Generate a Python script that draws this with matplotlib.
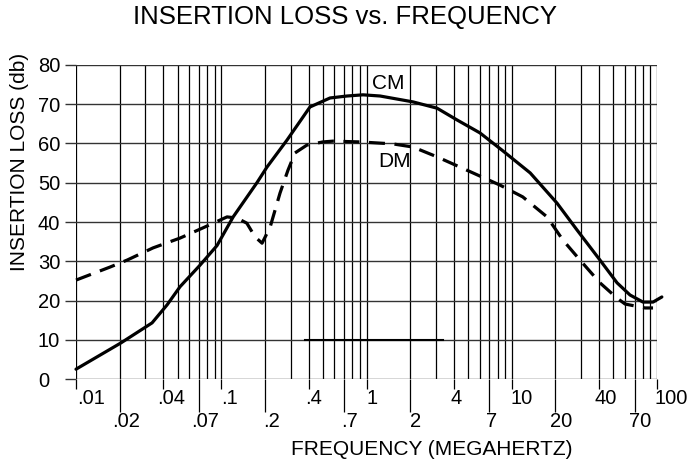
import matplotlib
matplotlib.use('Agg')
import matplotlib.pyplot as plt
from matplotlib.transforms import ScaledTranslation

plt.rcParams['font.family'] = ['Liberation Sans', 'DejaVu Sans']

# ---- data ----
cm_freq = [0.01, 0.0204, 0.0334, 0.0424, 0.052, 0.0714, 0.0935, 0.1208, 0.176, 0.2065,
           0.284, 0.408, 0.561, 0.734, 0.946, 1.24, 2.09, 3.06, 4.2, 6.04, 8.57, 13.4,
           20.5, 28.1, 40.5, 53.1, 65.2, 80.1, 93.9, 108]
cm_loss = [2.5, 9.2, 14.3, 18.9, 23.5, 29, 34, 41.3, 50, 54,
           60.9, 69.3, 71.6, 72.1, 72.4, 72.1, 70.6, 69, 66, 62.7, 58.3, 52.5,
           44.8, 38, 30.3, 24.5, 21.4, 19.6, 19.6, 20.9]

dm_freq = [0.01, 0.0171, 0.0225, 0.0339, 0.052, 0.0748, 0.1096, 0.1285, 0.150, 0.171,
           0.191, 0.217, 0.254, 0.288, 0.322, 0.389, 0.501, 0.587, 0.901, 1.52, 2.09,
           3.06, 5.41, 8.30, 11.9, 17.5, 22.5, 29.5, 40.5, 53.1, 60.3, 82.8, 93.9]
dm_loss = [25.2, 28.5, 30.3, 33.4, 35.9, 38.5, 41.3, 41, 39.7, 36.2,
           34.6, 38.7, 47.4, 53.2, 57.6, 59.6, 60.4, 60.6, 60.4, 59.9, 59.1,
           56.6, 52.5, 49.4, 46.4, 41.3, 35.4, 30.3, 24.5, 20.6, 19.1, 18.1, 18.1]

ref_freq = [0.377, 3.36]
ref_loss = [10, 10]

top_ticks = [0.01, 0.04, 0.1, 0.4, 1, 4, 10, 40, 100]
top_labels = ['.01', '.04', '.1', '.4', '1', '4', '10', '40', '100']
bottom_ticks = [0.02, 0.07, 0.2, 0.7, 2, 7, 20, 70]
bottom_labels = ['.02', '.07', '.2', '.7', '2', '7', '20', '70']
y_ticks = [0, 10, 20, 30, 40, 50, 60, 70, 80]

# ---- figure ----
W, H = 698, 465
fig = plt.figure(figsize=(W / 100, H / 100), dpi=100)
ax = fig.add_axes([76 / W, 1 - 379 / H, 581 / W, 314 / H])
ax.set_xscale('log')
ax.set_xlim(0.01, 100)
ax.set_ylim(0, 80)
for s in ax.spines.values():
    s.set_visible(False)

# grid
decades = [0.01, 0.1, 1, 10]
for d in decades:
    for m in range(1, 10):
        ax.axvline(d * m, color='black', lw=0.9, zorder=1)
ax.axvline(100, color='black', lw=0.9, zorder=1)
for yv in y_ticks:
    ax.axhline(yv, color='#333333', lw=1.0, zorder=1)

# x ticks
ax.set_xticks(top_ticks)
ax.set_xticklabels(top_labels)
ax.set_xticks(bottom_ticks, minor=True)
ax.set_xticklabels(bottom_labels, minor=True)
ax.tick_params(axis='x', which='major', length=7.2, width=0.9, pad=0, labelsize=14.5)
ax.tick_params(axis='x', which='minor', length=23.8, width=0.9, pad=0, labelsize=14.5)

top_dx = [15, 7.5, 8, 5, 5.5, 2.5, 9.5, 6, 14.5]
bot_dx = [6.5, 6.5, 6.5, 5, 5, 2, 6, 5.5]
fig.canvas.draw()
for lab, dx in zip(ax.get_xticklabels(), top_dx):
    lab.set_transform(lab.get_transform() + ScaledTranslation(dx / 100, 0, fig.dpi_scale_trans))
for lab, dx in zip(ax.get_xticklabels(minor=True), bot_dx):
    lab.set_transform(lab.get_transform() + ScaledTranslation(dx / 100, 0, fig.dpi_scale_trans))

# y ticks
ax.set_yticks(y_ticks)
ax.tick_params(axis='y', length=7.9, width=1.0, pad=19.5, labelsize=14.5, color='#333333')
for lab in ax.get_yticklabels():
    lab.set_ha('left')

# curves
ax.plot(cm_freq, cm_loss, color='black', lw=2.3, clip_on=False, zorder=3,
        solid_joinstyle='round', solid_capstyle='round')
ax.plot(dm_freq, dm_loss, color='black', lw=2.3, ls=(0, (5, 3)), clip_on=False, zorder=3)
ax.plot(ref_freq, ref_loss, color='black', lw=1.5, zorder=2)

ax.text(1.41, 75.2, 'CM', ha='center', va='center', fontsize=15)
ax.text(1.57, 55.5, 'DM', ha='center', va='center', fontsize=15)

ax.set_xlabel('FREQUENCY (MEGAHERTZ)', fontsize=15)
ax.xaxis.label.set_va('center')
ax.xaxis.set_label_coords(0.612, -0.226)
ax.set_ylabel('INSERTION LOSS (db)', fontsize=15)
ax.yaxis.label.set_va('center')
ax.yaxis.set_label_coords(-0.097, 0.691)

fig.text(345 / W, 1 - 17 / H, 'INSERTION LOSS vs. FREQUENCY', ha='center', va='center',
         fontsize=18.5)

fig.savefig('out.png', dpi=100)
